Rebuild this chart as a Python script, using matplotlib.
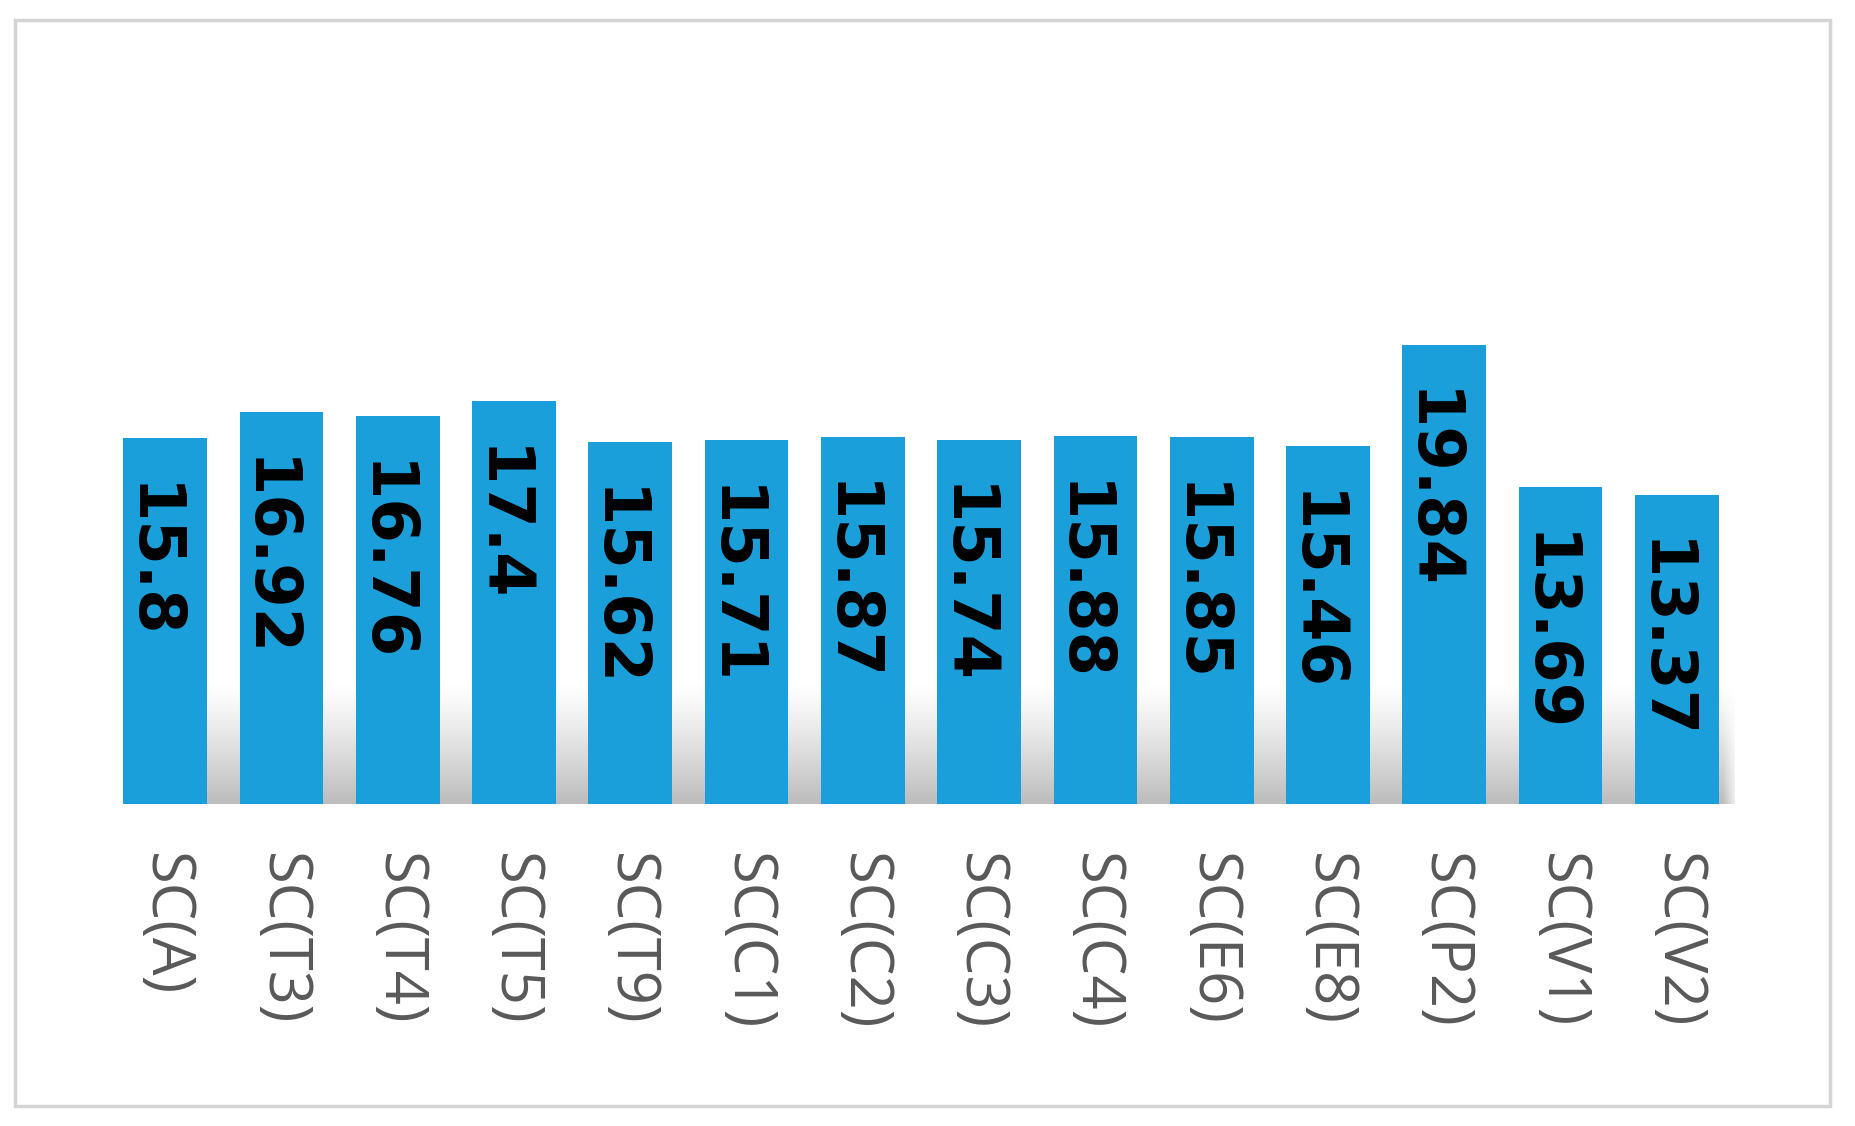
import matplotlib.pyplot as plt
import numpy as np
from matplotlib.patches import Rectangle
from typing import Tuple

categories = ["SC(A)", "SC(T3)", "SC(T4)", "SC(T5)", "SC(T9)", "SC(C1)", "SC(C2)",
              "SC(C3)", "SC(C4)", "SC(E6)", "SC(E8)", "SC(P2)", "SC(V1)", "SC(V2)"]
values = [15.8, 16.92, 16.76, 17.4, 15.62, 15.71, 15.87,
          15.74, 15.88, 15.85, 15.46, 19.84, 13.69, 13.37]
value_labels = ["15.8", "16.92", "16.76", "17.4", "15.62", "15.71", "15.87",
                "15.74", "15.88", "15.85", "15.46", "19.84", "13.69", "13.37"]

BAR_COLOR = "#1b9fda"


def make_figure() -> Tuple[plt.Figure, plt.Axes]:
    fig = plt.figure(figsize=(18.55, 11.26), dpi=100)
    ax = fig.add_axes([0.0577, 0.2857, 0.8776, 0.576])
    return fig, ax


def add_border(fig: plt.Figure) -> None:
    rect = Rectangle((0.0083, 0.018), 0.9783, 0.964, transform=fig.transFigure,
                     fill=False, edgecolor="#d4d4d4", linewidth=2.5)
    fig.patches.append(rect)


def add_shadow(ax: plt.Axes) -> None:
    # soft grey glow under the bars, like the Excel effect
    ny, nx = 100, 400
    yy = np.linspace(0, 1, ny)[:, None]
    xx = np.linspace(0, 1, nx)[None, :]
    vert = np.clip(1 - yy, 0, 1) ** 1.2
    horiz = np.clip(np.minimum(xx, 1 - xx) / 0.01, 0, 1)
    alpha = vert * horiz * 0.6
    img = np.zeros((ny, nx, 4))
    img[..., :3] = 0.55
    img[..., 3] = alpha
    ax.imshow(img, extent=(-0.36, 13.55, -0.1, 5.2), origin="lower",
              aspect="auto", zorder=1, interpolation="bilinear")


def add_bars(ax: plt.Axes) -> None:
    x = np.arange(len(categories))
    ax.bar(x, values, width=0.72, color=BAR_COLOR, zorder=2)
    for xi, v, lab in zip(x, values, value_labels):
        ax.annotate(lab, (xi, v), xytext=(-11, -32), textcoords="offset points",
                    rotation=-90, ha="center", va="top", fontsize=46,
                    fontweight="bold", color="black", zorder=3)


def setup_axes(ax: plt.Axes) -> None:
    ax.set_xlim(-0.5, 13.5)
    ax.set_ylim(0, 28)
    ax.set_xticks(np.arange(len(categories)))
    ax.set_xticklabels(categories, rotation=-90, fontsize=43,
                       color="#595959", family=["Open Sans", "DejaVu Sans"])
    ax.tick_params(axis="x", length=0, pad=35)
    ax.set_yticks([])
    for s in ax.spines.values():
        s.set_visible(False)
    ax.patch.set_alpha(0)


def entry_point() -> None:
    fig, ax = make_figure()
    add_border(fig)
    add_shadow(ax)
    add_bars(ax)
    setup_axes(ax)
    fig.savefig("out.png", dpi=100)


if __name__ == "__main__":
    entry_point()
